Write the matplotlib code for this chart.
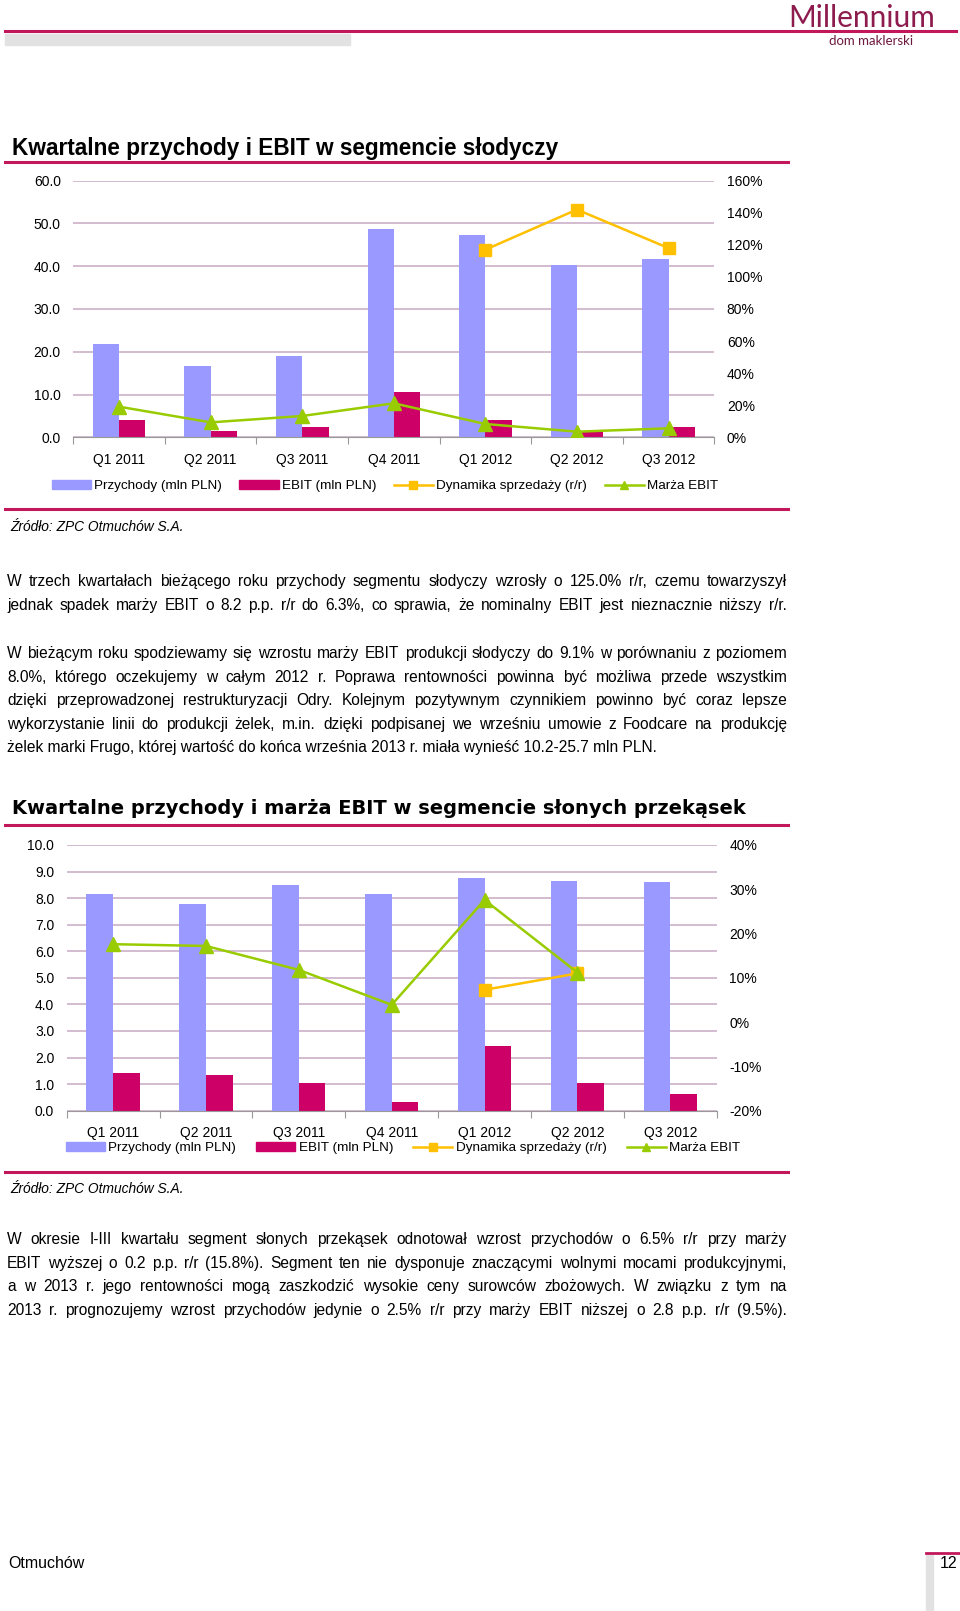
import matplotlib
matplotlib.use("Agg")
import matplotlib.pyplot as plt
from matplotlib.lines import Line2D
from matplotlib.patches import Rectangle, Patch
import numpy as np

W, H = 960, 1611

quarters = ["Q1 2011", "Q2 2011", "Q3 2011", "Q4 2011", "Q1 2012", "Q2 2012", "Q3 2012"]

# segment slodyczy
sw_revenue = [21.8, 16.7, 19.0, 48.7, 47.3, 40.3, 41.6]
sw_ebit = [4.1, 1.55, 2.5, 10.65, 4.1, 1.3, 2.3]
sw_growth = [None, None, None, None, 1.17, 1.42, 1.18]
sw_margin = [0.191, 0.093, 0.133, 0.212, 0.083, 0.035, 0.056]

# segment slonych przekasek
sn_revenue = [8.15, 7.78, 8.5, 8.17, 8.75, 8.64, 8.62]
sn_ebit = [1.43, 1.34, 1.03, 0.34, 2.45, 1.03, 0.63]
sn_growth = [None, None, None, None, 0.073, 0.11, None]
sn_margin = [0.176, 0.172, 0.118, 0.039, 0.276, 0.112, None]

legend_labels = ["Przychody (mln PLN)", "EBIT (mln PLN)", "Dynamika sprzedaży (r/r)", "Marża EBIT"]

para1 = ["W trzech kwartałach bieżącego roku przychody segmentu słodyczy wzrosły o 125.0% r/r, czemu towarzyszył",
         "jednak spadek marży EBIT o 8.2 p.p. r/r do 6.3%, co sprawia, że nominalny EBIT jest nieznacznie niższy r/r."]
para2 = ["W bieżącym roku spodziewamy się wzrostu marży EBIT produkcji słodyczy do 9.1% w porównaniu z poziomem",
         "8.0%, którego oczekujemy w całym 2012 r. Poprawa rentowności powinna być możliwa przede wszystkim",
         "dzięki przeprowadzonej restrukturyzacji Odry. Kolejnym pozytywnym czynnikiem powinno być coraz lepsze",
         "wykorzystanie linii do produkcji żelek, m.in. dzięki podpisanej we wrześniu umowie z Foodcare na produkcję",
         "żelek marki Frugo, której wartość do końca września 2013 r. miała wynieść 10.2-25.7 mln PLN."]
para3 = ["W okresie I-III kwartału segment słonych przekąsek odnotował wzrost przychodów o 6.5% r/r przy marży",
         "EBIT wyższej o 0.2 p.p. r/r (15.8%). Segment ten nie dysponuje znaczącymi wolnymi mocami produkcyjnymi,",
         "a w 2013 r. jego rentowności mogą zaszkodzić wysokie ceny surowców zbożowych. W związku z tym na",
         "2013 r. prognozujemy wzrost przychodów jedynie o 2.5% r/r przy marży EBIT niższej o 2.8 p.p. r/r (9.5%)."]

C_REV = "#9999FF"
C_EBIT = "#CC0066"
C_GROW = "#FFC000"
C_MARG = "#99CC00"
C_GRID = "#C8A8C4"
C_PINK = "#C2185B"
BODY = ["Liberation Sans", "DejaVu Sans"]
ARIAL = ["Liberation Sans", "DejaVu Sans"]

fig = plt.figure(figsize=(W / 100, H / 100), dpi=100)
fig.patch.set_facecolor("white")


def fx(x):
    return x / W


def fy(y):
    return 1 - y / H


def hline(x0, x1, y, color=C_PINK, lw=2.2):
    fig.add_artist(Line2D([fx(x0), fx(x1)], [fy(y), fy(y)], color=color, lw=lw,
                          transform=fig.transFigure))


def fit_size(lines, width, base=12):
    # font size at which the longest line still fits with some room for spacing
    r = fig.canvas.get_renderer()
    widest = 0
    for line in lines:
        t = fig.text(0, 0, line, family=BODY, fontsize=base)
        widest = max(widest, t.get_window_extent(r).width)
        t.remove()
    return base * width * 0.985 / widest


def justified(lines, x0, x1, y0, step, size, last_left=False):
    # y0 is the visual middle of the first line; words sit on a common baseline
    r = fig.canvas.get_renderer()
    for i, line in enumerate(lines):
        y = y0 + i * step + size * 0.36
        if i == len(lines) - 1 and last_left:
            fig.text(fx(x0), fy(y), line, family=BODY, fontsize=size, va="baseline", ha="left")
            continue
        words = line.split()
        ts = [fig.text(0, fy(y), wd, family=BODY, fontsize=size, va="baseline", ha="left") for wd in words]
        widths = [t.get_window_extent(r).width for t in ts]
        gap = (x1 - x0 - sum(widths)) / (len(words) - 1)
        cur = x0
        for t, wd in zip(ts, widths):
            t.set_x(fx(cur))
            cur += wd + gap


def draw_chart(left, top, right, bottom, revenue, ebit, growth, margin,
               ymax, ystep, rlo, rhi, rstep, legend_xy, colspace):
    ax = fig.add_axes([fx(left), fy(bottom), fx(right - left), (bottom - top) / H])
    x = np.arange(len(quarters))
    w = 0.287
    ax.bar(x - w / 2, revenue, w, color=C_REV, zorder=2)
    ax.bar(x + w / 2, ebit, w, color=C_EBIT, zorder=2)
    ax.set_xlim(-0.5, len(quarters) - 0.5)
    ax.set_ylim(0, ymax)
    ax.set_yticks(np.arange(0, ymax + ystep / 2, ystep))
    ax.yaxis.set_major_formatter(lambda v, p: f"{v:.1f}")
    ax.grid(axis="y", color=C_GRID, lw=1.1, zorder=0)
    ax.set_axisbelow(True)
    for s in ["top", "left", "right"]:
        ax.spines[s].set_visible(False)
    ax.spines["bottom"].set_color("#999999")
    ax.set_xticks(np.arange(-0.5, len(quarters)), [""] * (len(quarters) + 1))
    ax.set_xticks(x, quarters, minor=True)
    ax.tick_params(axis="x", which="major", length=5, color="#999999")
    ax.tick_params(axis="x", which="minor", length=0, pad=11, labelsize=10)
    ax.tick_params(axis="y", length=0, pad=9, labelsize=10)
    for lab in ax.get_xticklabels(minor=True) + ax.get_yticklabels():
        lab.set_family(ARIAL)

    ax2 = ax.twinx()
    g = np.array(growth, dtype=float)
    m = np.array(margin, dtype=float)
    ax2.plot(x, g, color=C_GROW, lw=1.8, marker="s", ms=8)
    ax2.plot(x, m, color=C_MARG, lw=1.8, marker="^", ms=10)
    ax2.set_ylim(rlo, rhi)
    ax2.set_yticks(np.arange(rlo, rhi + rstep / 2, rstep))
    ax2.yaxis.set_major_formatter(lambda v, p: f"{v * 100:.0f}%")
    ax2.tick_params(axis="y", length=0, pad=9, labelsize=10)
    for s in ax2.spines.values():
        s.set_visible(False)
    for lab in ax2.get_yticklabels():
        lab.set_family(ARIAL)

    handles = [Patch(color=C_REV), Patch(color=C_EBIT),
               Line2D([], [], color=C_GROW, lw=1.8, marker="s", ms=6),
               Line2D([], [], color=C_MARG, lw=1.8, marker="^", ms=6)]
    fig.legend(handles, legend_labels, loc="center", bbox_to_anchor=(fx(legend_xy[0]), fy(legend_xy[1])),
               ncol=4, frameon=False, prop={"family": ARIAL, "size": 9.7},
               handlelength=2.9, handleheight=0.7, handletextpad=0.25, columnspacing=colspace)
    return ax


# header
fig.text(fx(862), fy(18), "Millennium", family=["Lato", "DejaVu Sans"], fontsize=21.5,
         color="#8E1B4E", ha="center", va="center")
fig.text(fx(871), fy(41), "dom maklerski", family=["Lato", "DejaVu Sans"], fontsize=9.5,
         color="#6E1A3E", ha="center", va="center")
hline(5, 956, 31, lw=2.2)
fig.add_artist(Rectangle((fx(5), fy(45)), fx(345), 11 / H, color="#E2E2E2",
                         transform=fig.transFigure))

# chart 1
fig.text(fx(12), fy(148), "Kwartalne przychody i EBIT w segmencie słodyczy", family=ARIAL,
         fontsize=16.3, fontweight="bold", va="center")
hline(5, 788, 162)
draw_chart(73.3, 180.7, 714.3, 437.3, sw_revenue, sw_ebit, sw_growth, sw_margin,
           60, 10, 0, 1.6, 0.2, (385, 486), 1.3)
hline(5, 788, 509)
fig.text(fx(10), fy(527), "Źródło: ZPC Otmuchów S.A.", family=BODY, fontsize=9.9,
         style="italic", va="center")

body_size = fit_size(para1 + para2[:-1] + para3, 780)
justified(para1, 7, 787, 582, 23.6, body_size)
justified(para2, 7, 787, 654, 23.6, body_size, last_left=True)

# chart 2
fig.text(fx(12), fy(809), "Kwartalne przychody i marża EBIT w segmencie słonych przekąsek",
         family=["DejaVu Sans"], fontsize=14, fontweight="bold", va="center")
hline(5, 788, 825)
draw_chart(66.7, 845, 716.7, 1110.7, sn_revenue, sn_ebit, sn_growth, sn_margin,
           10, 1, -0.2, 0.4, 0.1, (403, 1148), 1.5)
hline(5, 788, 1172)
fig.text(fx(10), fy(1189), "Źródło: ZPC Otmuchów S.A.", family=BODY, fontsize=9.9,
         style="italic", va="center")

justified(para3, 7, 787, 1240, 23.6, body_size)

# footer
fig.text(fx(8), fy(1564), "Otmuchów", family=BODY, fontsize=11.5, va="center")
fig.text(fx(957), fy(1564), "12", family=BODY, fontsize=11.5, va="center", ha="right")
hline(926, 960, 1553, lw=2)
fig.add_artist(Rectangle((fx(926), 0), fx(7), (H - 1555) / H, color="#E2E2E2",
                         transform=fig.transFigure))

fig.savefig("out.png", dpi=100)
